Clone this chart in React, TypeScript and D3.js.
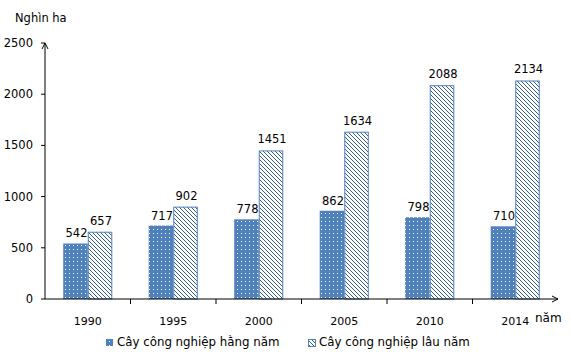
import React from "react";
import * as d3 from "d3";

const years = ["1990", "1995", "2000", "2005", "2010", "2014"];
const annual = [542, 717, 778, 862, 798, 710];
const perennial = [657, 902, 1451, 1634, 2088, 2134];
const yTicks = [0, 500, 1000, 1500, 2000, 2500];
const seriesNames = ["Cây công nghiệp hằng năm", "Cây công nghiệp lâu năm"];

const W = 571, H = 357;
const FONT = "'DejaVu Sans', Verdana, sans-serif";
const BLUE = "#4F81BD";
const HATCH = "#385D8A";

export default function App() {
  const x0 = 45, x1 = 558;
  const x = d3.scaleBand<string>().domain(years).range([x0, x1]).paddingInner(0).paddingOuter(0);
  const y = d3.scaleLinear().domain([0, 2500]).range([299, 43]);
  const bw = x.bandwidth() * 0.287;
  const y0 = y(0);

  return (
    <svg width={W} height={H} style={{ position: "absolute", left: 0, top: 0 }} fontFamily={FONT}>
      <defs>
        <pattern id="dots" width="4" height="4" patternUnits="userSpaceOnUse">
          <rect width="4" height="4" fill={BLUE} />
          <rect x="1" y="1" width="1" height="1" fill="#ffffff" />
        </pattern>
        <pattern id="hatch" width="4" height="4" patternUnits="userSpaceOnUse">
          <rect width="4" height="4" fill="#ffffff" />
          <path d="M-1,-1 L5,5 M-1,3 L1,5 M3,-1 L5,1" stroke={HATCH} strokeWidth="1" />
        </pattern>
      </defs>
      <rect width={W} height={H} fill="#fff" />
      <text x={15} y={22} fontSize={11.5} fill="#000">Nghìn ha</text>

      {/* y axis */}
      <line x1={x0} x2={x0} y1={y(2500)} y2={y0} stroke="#000" strokeWidth={1} />
      <path d={`M${x0 - 3},${y(2500) + 6} L${x0},${y(2500)} L${x0 + 3},${y(2500) + 6}`} fill="none" stroke="#000" />
      {yTicks.map((t) => (
        <g key={t}>
          <line x1={x0 - 4} x2={x0} y1={y(t)} y2={y(t)} stroke="#000" />
          <text x={33} y={y(t) + 4} fontSize={11.5} textAnchor="end" fill="#000">{t}</text>
        </g>
      ))}

      {/* bars */}
      {years.map((yr, i) => {
        const cx = (x(yr) as number) + x.bandwidth() / 2;
        const ya = y(annual[i]);
        const yp = y(perennial[i]);
        return (
          <g key={yr}>
            <rect x={cx - bw} y={ya} width={bw} height={y0 - ya} fill="url(#dots)" />
            <rect x={cx + 0.5} y={yp + 0.5} width={bw - 1} height={y0 - yp - 0.5} fill="url(#hatch)" stroke={BLUE} strokeWidth={1} />
            <text x={cx - bw / 2 + 1} y={ya - 6} fontSize={11.5} textAnchor="middle" fill="#000">{annual[i]}</text>
            <text x={cx + bw / 2 + 1} y={yp - 7} fontSize={11.5} textAnchor="middle" fill="#000">{perennial[i]}</text>
            <text x={cx} y={325} fontSize={11} textAnchor="middle" fill="#000">{yr}</text>
          </g>
        );
      })}

      {/* x axis */}
      <line x1={x0} x2={x1} y1={y0} y2={y0} stroke="#000" />
      <path d={`M${x1 - 6},${y0 - 3} L${x1},${y0} L${x1 - 6},${y0 + 3}`} fill="none" stroke="#000" />
      {years.map((yr, i) => i === 0 ? null : (
        <line key={yr} x1={x(yr) as number} x2={x(yr) as number} y1={y0} y2={y0 + 5} stroke="#000" />
      ))}
      <text x={535} y={322} fontSize={12} fill="#000">năm</text>

      {/* legend */}
      <rect x={106} y={339} width={7} height={7} fill="url(#dots)" />
      <text x={117} y={346} fontSize={11.8} fill="#000">{seriesNames[0]}</text>
      <rect x={308.5} y={339.5} width={7} height={7} fill="url(#hatch)" stroke={BLUE} />
      <text x={319} y={346} fontSize={11.8} fill="#000">{seriesNames[1]}</text>
    </svg>
  );
}
